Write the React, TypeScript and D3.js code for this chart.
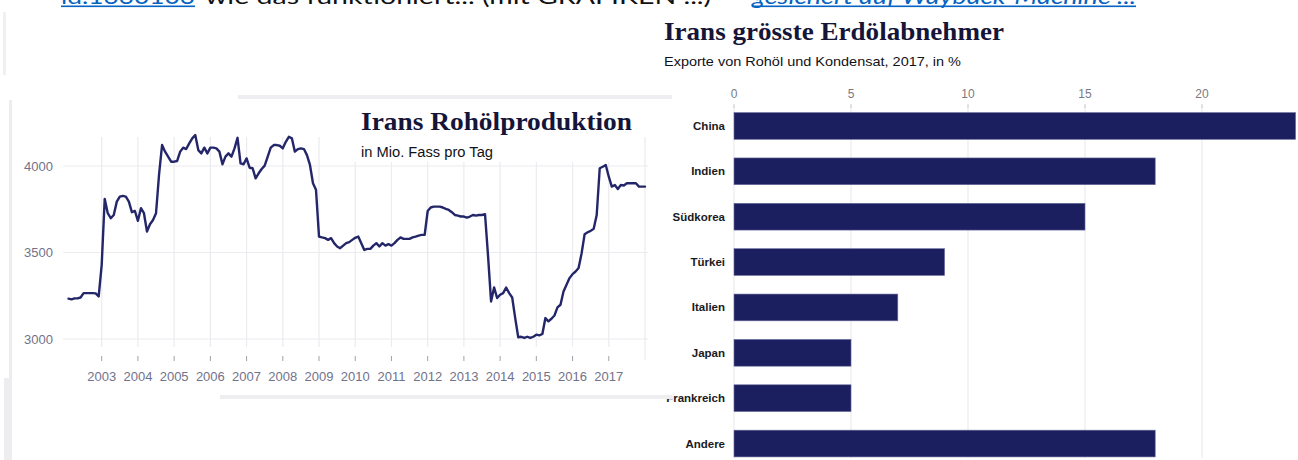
import React from "react";
import * as d3 from "d3";

// ---------- Line chart data: Iran crude production (thousand barrels/day), monthly Feb 2002 – Jan 2018
const prodStartYear = 2002;
const prodStartMonth = 2; // February
const production: number[] = [
  // 2002 (Feb–Dec)
  3233, 3229, 3235, 3235, 3240, 3265, 3265, 3265, 3265, 3264, 3246,
  // 2003
  3429, 3810, 3727, 3698, 3717, 3794, 3823, 3827, 3823, 3794, 3733, 3740,
  // 2004
  3683, 3756, 3727, 3621, 3663, 3688, 3727, 3950, 4121, 4083, 4054, 4025,
  // 2005
  4025, 4029, 4083, 4106, 4098, 4131, 4160, 4179, 4092, 4073, 4106, 4073,
  // 2006
  4106, 4106, 4102, 4083, 4010, 4054, 4073, 4054, 4102, 4163, 4015, 4010,
  // 2007
  4044, 3990, 3987, 3929, 3958, 3983, 4002, 4054, 4106, 4121, 4121, 4117,
  // 2008
  4102, 4140, 4169, 4160, 4083, 4098, 4102, 4098, 4063, 4006, 3900, 3862,
  // 2009
  3592, 3587, 3583, 3573, 3583, 3554, 3535, 3525, 3540, 3554, 3560, 3573,
  // 2010
  3585, 3592, 3554, 3515, 3521, 3521, 3540, 3554, 3535, 3554, 3540, 3548,
  // 2011
  3540, 3554, 3573, 3587, 3579, 3579, 3579, 3587, 3592, 3598, 3602, 3602,
  // 2012
  3740, 3760, 3765, 3765, 3765, 3760, 3752, 3746, 3733, 3717, 3713, 3708,
  // 2013
  3708, 3702, 3708, 3717, 3713, 3717, 3717, 3721, 3480, 3217, 3298, 3237,
  // 2014
  3256, 3265, 3298, 3265, 3240, 3121, 3010, 3013, 3006, 3013, 3006, 3013,
  // 2015
  3025, 3021, 3029, 3121, 3102, 3117, 3136, 3183, 3198, 3275, 3313, 3352,
  // 2016
  3375, 3390, 3410, 3496, 3606, 3617, 3625, 3637, 3717, 3987, 3996, 4006,
  // 2017
  3938, 3881, 3890, 3867, 3890, 3887, 3900, 3900, 3900, 3900, 3881, 3881,
  // 2018 (Jan)
  3881,
];
const yearTicks: number[] = [2003, 2004, 2005, 2006, 2007, 2008, 2009, 2010, 2011, 2012, 2013, 2014, 2015, 2016, 2017];
const yearGrid: number[] = [...yearTicks, 2018];
const prodTicks: number[] = [3000, 3500, 4000];

// ---------- Bar chart data: Iran's biggest oil buyers, 2017, share in %
const countries: string[] = ["China", "Indien", "Südkorea", "Türkei", "Italien", "Japan", "Frankreich", "Andere"];
const shares: number[] = [24, 18, 15, 9, 7, 5, 5, 18];
const shareTicks: number[] = [0, 5, 10, 15, 20];

const NAVY = "#1c1f5f";
const LINE = "#24266a";
const GRID = "#ebebf0";
const SANS = "'Liberation Sans', Arial, sans-serif";
const SERIF = "'Liberation Serif', 'DejaVu Serif', serif";

export default function App() {
  // line chart scales
  const x = d3.scaleLinear().domain([2003, 2018]).range([101.7, 645]);
  const y = d3.scaleLinear().domain([3000, 4000]).range([339, 166]);
  const pts = production.map((v, i) => ({
    t: prodStartYear + (prodStartMonth - 1 + i) / 12,
    v,
  }));
  const linePath = d3
    .line<{ t: number; v: number }>()
    .x((d) => x(d.t))
    .y((d) => y(d.v))(pts) as string;

  // bar chart scales
  const bx = d3.scaleLinear().domain([0, 24]).range([734, 734 + 23.4 * 24]);
  const by = d3
    .scaleBand<string>()
    .domain(countries)
    .range([103.5, 466])
    .paddingInner(0.41)
    .paddingOuter(0.2);

  return (
    <svg
      width={1298}
      height={460}
      style={{ position: "absolute", left: 0, top: 0, background: "#fff" }}
      xmlns="http://www.w3.org/2000/svg"
    >
      <rect x={0} y={0} width={1298} height={460} fill="#fff" />

      {/* cropped document text line at the very top */}
      <g fontFamily="Lato, 'Open Sans', sans-serif" fontSize={21}>
        <text x={61} y={3.5} fill="#0563c1" textLength={134} lengthAdjust="spacingAndGlyphs">ld.1330103</text>
        <rect x={61} y={5.5} width={134} height={1.6} fill="#0563c1" />
        <text x={205} y={3.5} fill="#111" textLength={530} lengthAdjust="spacingAndGlyphs">wie das funktioniert... (mit GRAFIKEN ...) –</text>
        <text x={752} y={3.5} fill="#0563c1" fontStyle="italic" textLength={384} lengthAdjust="spacingAndGlyphs">gesichert auf Wayback-Machine ...</text>
        <rect x={752} y={5.5} width={384} height={1.6} fill="#0563c1" />
      </g>

      {/* faint page borders */}
      <rect x={3} y={12} width={3} height={63} fill="#f0f0f2" />
      <rect x={9} y={100} width={3} height={360} fill="#ededf0" />
      <rect x={4} y={378} width={8} height={82} fill="#ededf0" />

      {/* ===== Right: bar chart ===== */}
      <text x={664} y={40} fontFamily={SERIF} fontWeight="bold" fontSize={25} fill="#15153a" textLength={340} lengthAdjust="spacingAndGlyphs">
        Irans grösste Erdölabnehmer
      </text>
      <text x={664} y={66} fontFamily={SANS} fontSize={13.5} fill="#111118" textLength={297} lengthAdjust="spacingAndGlyphs">
        Exporte von Rohöl und Kondensat, 2017, in %
      </text>
      {shareTicks.map((t) => (
        <g key={t}>
          <line x1={bx(t)} x2={bx(t)} y1={106} y2={458} stroke={GRID} strokeWidth={1.2} />
          <line x1={bx(t)} x2={bx(t)} y1={104} y2={108} stroke="#c9c9d2" strokeWidth={1} />
          <text x={bx(t)} y={98} textAnchor="middle" fontFamily={SANS} fontSize={12} fill="#7a7a84">
            {t}
          </text>
        </g>
      ))}
      {countries.map((c, i) => (
        <g key={c}>
          <rect
            x={bx(0)}
            y={by(c)}
            width={bx(shares[i]) - bx(0)}
            height={by.bandwidth()}
            fill={NAVY}
            stroke="#6d6f9c"
            strokeWidth={0.6}
          />
          <text
            x={725}
            y={(by(c) as number) + by.bandwidth() / 2 + 4}
            textAnchor="end"
            fontFamily={SANS}
            fontWeight="bold"
            fontSize={11.5}
            fill="#1a1a22"
          >
            {c}
          </text>
        </g>
      ))}

      {/* ===== Left: line chart ===== */}
      {yearGrid.map((yr) => (
        <line key={"vg" + yr} x1={x(yr)} x2={x(yr)} y1={137} y2={yr === 2018 ? 360 : 347} stroke={GRID} strokeWidth={1.2} />
      ))}
      {/* white box behind the title */}
      <rect x={340} y={100} width={292} height={62} fill="#fff" />
      {prodTicks.map((t) => (
        <g key={"hg" + t}>
          <line x1={63} x2={648} y1={y(t)} y2={y(t)} stroke={GRID} strokeWidth={1.2} />
          <text x={24} y={y(t) + 4.5} fontFamily={SANS} fontSize={13} fill="#72728a">
            {t}
          </text>
        </g>
      ))}
      {yearTicks.map((yr) => (
        <g key={"xt" + yr}>
          <line x1={x(yr)} x2={x(yr)} y1={356} y2={361} stroke="#a0a0aa" strokeWidth={1} />
          <text x={x(yr)} y={381} textAnchor="middle" fontFamily={SANS} fontSize={13} fill="#72728a">
            {yr}
          </text>
        </g>
      ))}
      <path d={linePath} fill="none" stroke={LINE} strokeWidth={2.4} strokeLinejoin="round" strokeLinecap="round" />
      <text x={361} y={130} fontFamily={SERIF} fontWeight="bold" fontSize={25} fill="#15153a" textLength={271} lengthAdjust="spacingAndGlyphs">
        Irans Rohölproduktion
      </text>
      <text x={361} y={157} fontFamily={SANS} fontSize={14} fill="#111118" textLength={132} lengthAdjust="spacingAndGlyphs">
        in Mio. Fass pro Tag
      </text>

      {/* screenshot frame lines of the left panel (its edge hides the "F" of Frankreich) */}
      <rect x={238} y={95} width={434} height={4} fill="#eeeef1" />
      <rect x={640} y={384} width={33.2} height={11} fill="#fff" />
      <rect x={220} y={395} width={453} height={4} fill="#eeeef1" />
    </svg>
  );
}
